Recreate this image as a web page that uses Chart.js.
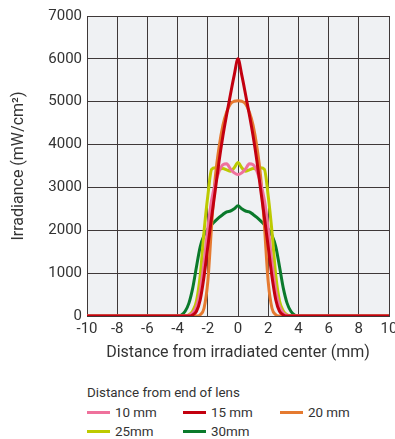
<!DOCTYPE html>
<html>
<head>
<meta charset="utf-8">
<script src="https://cdn.jsdelivr.net/npm/chart.js@4/dist/chart.umd.min.js"></script>
<style>
  html, body { margin: 0; padding: 0; background: #ffffff; overflow: hidden; }
  #wrap { position: relative; width: 395px; height: 439px; font-family: Roboto, "Noto Sans", sans-serif; color: #333333; }
  #chart { position: absolute; left: 0; top: 0; }
  .lg-title { position: absolute; left: 87px; top: 385px; font-size: 13.4px; line-height: 16px; white-space: nowrap; }
  .lg-item { position: absolute; height: 16px; font-size: 13.4px; line-height: 16px; white-space: nowrap; }
  .lg-swatch { position: absolute; left: 0; top: 6px; width: 23px; height: 3px; }
  .lg-text { position: absolute; left: 28px; top: 0; }
</style>
</head>
<body>
<div id="wrap">
  <canvas id="chart" width="395" height="370"></canvas>
  <div class="lg-title">Distance from end of lens</div>
</div>
<script>
// Distance from irradiated center (mm)
const positions = [-10,
  -4, -3.75, -3.5, -3.25, -3, -2.75, -2.5, -2.25, -2, -1.75, -1.5, -1.25, -1, -0.75, -0.5, -0.25,
  0,
  0.25, 0.5, 0.75, 1, 1.25, 1.5, 1.75, 2, 2.25, 2.5, 2.75, 3, 3.25, 3.5, 3.75, 4,
  10];

// Irradiance (mW/cm²) for each distance from the end of the lens
const irr10mm = [0,
  0, 0, 0, 15, 70, 220, 600, 1250, 2050, 2700, 3100, 3380, 3530, 3550, 3430, 3340,
  3300,
  3340, 3430, 3550, 3530, 3380, 3100, 2700, 2050, 1250, 600, 220, 70, 15, 0, 0, 0,
  0];
const irr15mm = [0,
  0, 0, 0, 0, 25, 110, 380, 920, 1620, 2300, 2950, 3620, 4200, 4700, 5170, 5620,
  6000,
  5620, 5170, 4700, 4200, 3620, 2950, 2300, 1620, 920, 380, 110, 25, 0, 0, 0, 0,
  0];
const irr20mm = [0,
  0, 0, 0, 0, 0, 0, 30, 180, 800, 2100, 3250, 3950, 4450, 4760, 4950, 5010,
  5020,
  5010, 4950, 4760, 4450, 3950, 3250, 2100, 800, 180, 30, 0, 0, 0, 0, 0, 0,
  0];
const irr25mm = [0,
  0, 0, 0, 30, 120, 350, 950, 1970, 2800, 3420, 3460, 3430, 3440, 3410, 3380, 3460,
  3580,
  3460, 3380, 3410, 3440, 3430, 3460, 3420, 2800, 1970, 950, 350, 120, 30, 0, 0, 0,
  0];
const irr30mm = [0,
  0, 25, 110, 300, 650, 1150, 1620, 1880, 2030, 2130, 2220, 2300, 2370, 2430, 2450, 2500,
  2570,
  2500, 2450, 2430, 2370, 2300, 2220, 2130, 2030, 1880, 1620, 1150, 650, 300, 110, 25, 0,
  0];

const seriesNames = ['10 mm', '15 mm', '20 mm', '25mm', '30mm'];
const seriesColors = ['#ef719c', '#c3000f', '#e57a30', '#bdca00', '#0a7a2b'];
const seriesValues = [irr10mm, irr15mm, irr20mm, irr25mm, irr30mm];
// stacking order (higher number is painted first, i.e. further back)
const seriesLayer = [2, 1, 3, 4, 5];

const xTickLabels = ['-10', '-8', '-6', '-4', '-2', '0', '2', '4', '6', '8', '10'];
const yTickLabels = ['0', '1000', '2000', '3000', '4000', '5000', '6000', '7000'];

const plotBackground = {
  id: 'plotBackground',
  beforeDraw(chart) {
    const { ctx, chartArea: a } = chart;
    ctx.save();
    ctx.fillStyle = '#eff1f3';
    ctx.fillRect(a.left, a.top, a.right - a.left, a.bottom - a.top);
    ctx.restore();
  }
};

const gridColor = '#3e3838';
const tickFont = { family: 'Roboto', size: 15 };
const titleFont = { family: 'Roboto', size: 16 };

new Chart(document.getElementById('chart'), {
  type: 'line',
  data: {
    datasets: seriesValues.map((vals, i) => ({
      label: seriesNames[i],
      data: positions.map((x, j) => ({ x: x, y: vals[j] })),
      borderColor: seriesColors[i],
      backgroundColor: seriesColors[i],
      borderWidth: 3,
      pointRadius: 0,
      fill: false,
      cubicInterpolationMode: 'monotone',
      order: seriesLayer[i]
    }))
  },
  options: {
    responsive: false,
    animation: false,
    devicePixelRatio: 1,
    layout: { padding: { top: 16, right: 6, bottom: 4, left: 0 } },
    plugins: { legend: { display: false }, tooltip: { enabled: false } },
    scales: {
      x: {
        type: 'linear',
        min: -10, max: 10,
        ticks: {
          stepSize: 2,
          padding: 4,
          color: '#333333',
          font: tickFont,
          maxRotation: 0,
          autoSkip: false,
          callback: (v) => xTickLabels[Math.round((v + 10) / 2)]
        },
        grid: { color: gridColor, lineWidth: 1, drawTicks: false },
        border: { color: gridColor, width: 1 },
        title: {
          display: true,
          text: 'Distance from irradiated center (mm)',
          color: '#333333',
          font: titleFont,
          padding: { top: 0, bottom: 3 }
        },
        afterFit(scale) {
          scale.height = 50;
          scale.paddingLeft = 0;
          scale.paddingRight = 0;
        }
      },
      y: {
        type: 'linear',
        min: 0, max: 7000,
        ticks: {
          stepSize: 1000,
          padding: 5,
          color: '#333333',
          font: tickFont,
          callback: (v) => yTickLabels[Math.round(v / 1000)]
        },
        grid: { color: gridColor, lineWidth: 1, drawTicks: false },
        border: { color: gridColor, width: 1 },
        title: {
          display: true,
          text: 'Irradiance (mW/cm²)',
          color: '#333333',
          font: titleFont,
          padding: { top: 9, bottom: 0 }
        },
        afterFit(scale) {
          scale.width = 87;
        }
      }
    }
  },
  plugins: [plotBackground]
});

// Legend: three entries per row under a heading
const wrap = document.getElementById('wrap');
const legendCols = [87, 183, 280];
const legendRows = [405, 424];
seriesNames.forEach((name, i) => {
  const item = document.createElement('div');
  item.className = 'lg-item';
  item.style.left = legendCols[i % 3] + 'px';
  item.style.top = legendRows[Math.floor(i / 3)] + 'px';
  const sw = document.createElement('span');
  sw.className = 'lg-swatch';
  sw.style.background = seriesColors[i];
  const tx = document.createElement('span');
  tx.className = 'lg-text';
  tx.textContent = name;
  item.appendChild(sw);
  item.appendChild(tx);
  wrap.appendChild(item);
});
</script>
</body>
</html>
